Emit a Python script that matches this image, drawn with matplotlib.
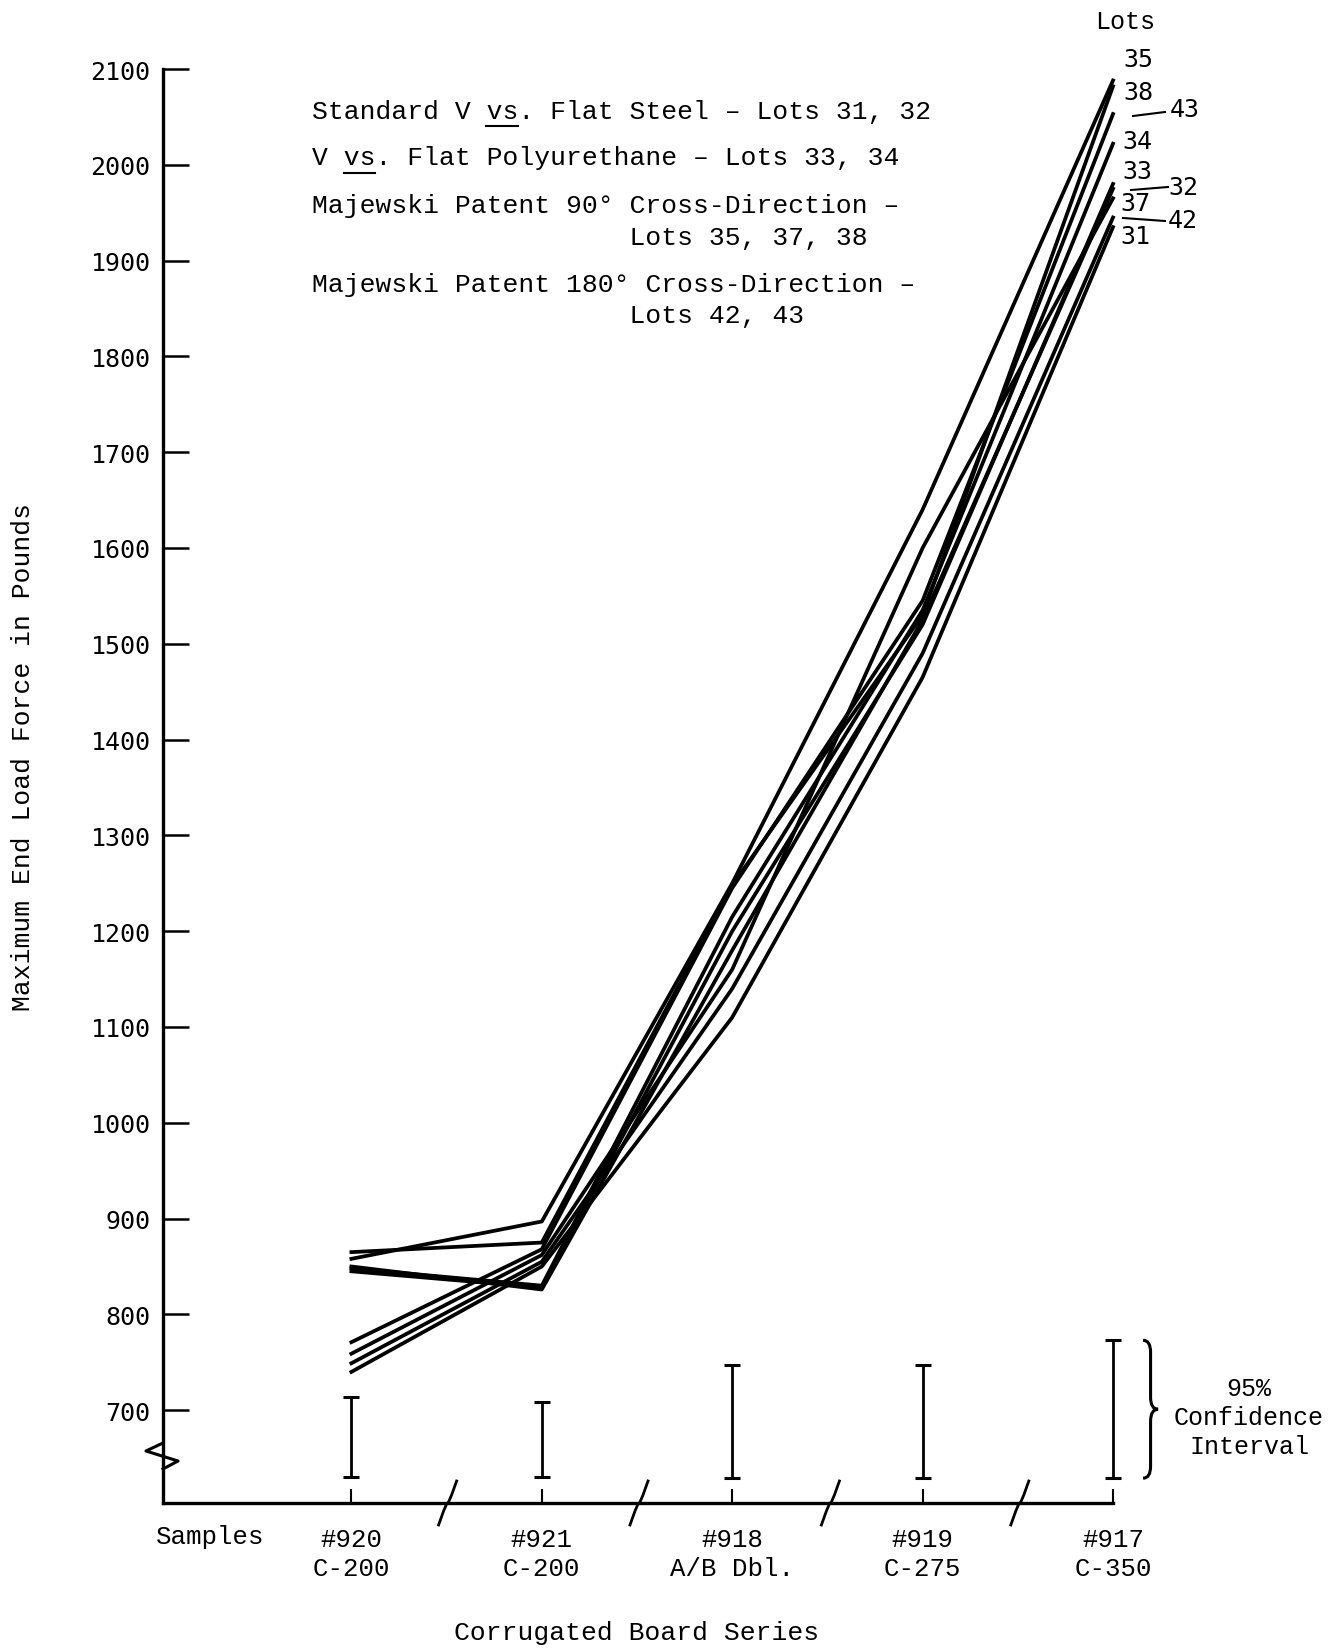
import numpy as np
import matplotlib.pyplot as plt
from matplotlib.path import Path
from matplotlib.patches import PathPatch
from matplotlib.lines import Line2D

plt.rcParams['font.family'] = ['Liberation Mono', 'DejaVu Sans']

#%% data
samples = ['#920\nC-200', '#921\nC-200', '#918\nA/B Dbl.', '#919\nC-275', '#917\nC-350']
yticks = [700, 800, 900, 1000, 1100, 1200, 1300, 1400, 1500, 1600, 1700, 1800, 1900, 2000, 2100]

lot_35 = [858, 897, 1250, 1640, 2088]
lot_38 = [865, 875, 1248, 1530, 2082]
lot_43 = [771, 868, 1245, 1545, 2053]
lot_34 = [848, 830, 1215, 1535, 2022]
lot_33 = [845, 828, 1200, 1520, 1980]
lot_32 = [850, 826, 1180, 1525, 1975]
lot_37 = [759, 862, 1160, 1600, 1965]
lot_42 = [749, 855, 1140, 1490, 1945]
lot_31 = [740, 850, 1110, 1465, 1935]
lots = [lot_35, lot_38, lot_43, lot_34, lot_33, lot_32, lot_37, lot_42, lot_31]

ci_low = [630, 630, 629, 629, 629]
ci_high = [714, 709, 747, 747, 773]

#%% figure
W, H = 1330, 1649
fig = plt.figure(figsize=(W/100, H/100), dpi=100)
fx = lambda px: px/W
fy = lambda py: 1 - py/H

x0px, x_step = 351., 190.      # pixel of first sample, pixels per sample
y_top, y_scale = 70., 0.958    # pixel of 2100, pixels per pound
ax_left, ax_bot = 163., 1504.
xl = (ax_left - x0px)/x_step
ybot = 2100 - (ax_bot - y_top)/y_scale

ax = fig.add_axes([fx(ax_left), fy(ax_bot), fx(1113) - fx(ax_left), fy(y_top) - fy(ax_bot)])
ax.set_xlim(xl, 4)
ax.set_ylim(ybot, 2100)
for s in ['top', 'right']:
    ax.spines[s].set_visible(False)
for s in ['left', 'bottom']:
    ax.spines[s].set_linewidth(2.4)

x = np.arange(len(samples))
ax.set_xticks(x)
ax.set_xticklabels(samples, fontsize=18.5, linespacing=1.3)
ax.set_yticks(yticks)
ax.set_yticklabels([str(v) for v in yticks], fontsize=18, family='DejaVu Sans Mono')
ax.tick_params(axis='y', direction='in', length=19, width=1.8, pad=9)
ax.tick_params(axis='x', direction='in', length=10, width=1.5, pad=17)

for v in lots:
    ax.plot(x, v, 'k-', lw=2.7, zorder=3, clip_on=False)

mid = (np.array(ci_low) + np.array(ci_high))/2
eb = ax.errorbar(x, mid, yerr=[mid - np.array(ci_low), np.array(ci_high) - mid],
                 fmt='none', ecolor='k', elinewidth=2, capsize=6, capthick=2.2)
for art in eb.get_children():
    art.set_clip_on(False)

# axis breaks
dxu = lambda d: d/x_step
dyu = lambda d: -d/y_scale
yb = 2100 - (1457 - y_top)/y_scale
ax.plot([xl, xl + dxu(15), xl + dxu(-17), xl],
        [yb + dyu(13), yb + dyu(5), yb + dyu(-5), yb + dyu(-13)],
        'k-', lw=2.2, clip_on=False, zorder=5)
for bx in [447, 638, 829, 1018]:
    xb = (bx - x0px)/x_step
    ax.plot([xb + dxu(-9), xb + dxu(-4), xb + dxu(-1), xb + dxu(1), xb + dxu(4), xb + dxu(9)],
            [ybot + dyu(22), ybot + dyu(8), ybot + dyu(1), ybot + dyu(-1), ybot + dyu(-8), ybot + dyu(-22)],
            'k-', lw=2, clip_on=False, zorder=5)

# brace for the confidence interval
bx0 = 4 + dxu(30)
bw = dxu(15)
r = 12/y_scale
y0, y1 = ci_low[4], ci_high[4]
ym = (y0 + y1)/2
verts = [(bx0, y1), (bx0 + bw/2, y1), (bx0 + bw/2, y1 - r),
         (bx0 + bw/2, ym + r),
         (bx0 + bw/2, ym), (bx0 + bw, ym),
         (bx0 + bw/2, ym), (bx0 + bw/2, ym - r),
         (bx0 + bw/2, y0 + r),
         (bx0 + bw/2, y0), (bx0, y0)]
codes = [Path.MOVETO, Path.CURVE3, Path.CURVE3, Path.LINETO,
         Path.CURVE3, Path.CURVE3, Path.CURVE3, Path.CURVE3,
         Path.LINETO, Path.CURVE3, Path.CURVE3]
ax.add_patch(PathPatch(Path(verts, codes), fc='none', ec='k', lw=2.2, clip_on=False))
fig.text(fx(1249), fy(1418), '95%\nConfidence\nInterval', fontsize=18,
         ha='center', va='center', linespacing=1.25)

# axis titles
fig.text(fx(23), fy(757), 'Maximum End Load Force in Pounds', fontsize=19,
         rotation=90, ha='center', va='center')
fig.text(fx(637), fy(1633), 'Corrugated Board Series', fontsize=19, ha='center', va='center')
fig.text(fx(210), fy(1537), 'Samples', fontsize=18.5, ha='center', va='center')

# key text
fs = 19
cw = 0.6*fs*100/72
kx = 312
key = [('Standard V vs. Flat Steel – Lots 31, 32', 119),
       ('V vs. Flat Polyurethane – Lots 33, 34', 165),
       ('Majewski Patent 90° Cross-Direction –', 213),
       ('                    Lots 35, 37, 38', 245),
       ('Majewski Patent 180° Cross-Direction –', 292),
       ('                    Lots 42, 43', 323)]
for txt, yy in key:
    fig.text(fx(kx), fy(yy), txt, fontsize=fs, ha='left', va='baseline')
for ci, yy in [(11, 127), (2, 174)]:
    fig.add_artist(Line2D([fx(kx + ci*cw), fx(kx + (ci + 2)*cw)], [fy(yy), fy(yy)],
                          color='k', lw=1.5))

# lot labels at the right end
fig.text(fx(1125), fy(22), 'Lots', fontsize=18, ha='center', va='center')
for lab, px, py in [('35', 1138, 60), ('38', 1138, 93), ('34', 1137, 142),
                    ('33', 1137, 172), ('37', 1135, 204), ('31', 1135, 237),
                    ('43', 1185, 110), ('32', 1183, 188), ('42', 1183, 221)]:
    fig.text(fx(px), fy(py), lab, fontsize=18, family='DejaVu Sans Mono',
             ha='center', va='center')
for (a, b), (c, d) in [((1133, 117), (1165, 113)), ((1131, 191), (1168, 188)),
                       ((1123, 219), (1165, 222))]:
    fig.add_artist(Line2D([fx(a), fx(c)], [fy(b), fy(d)], color='k', lw=1.5))

plt.savefig('out.png', dpi=100)
